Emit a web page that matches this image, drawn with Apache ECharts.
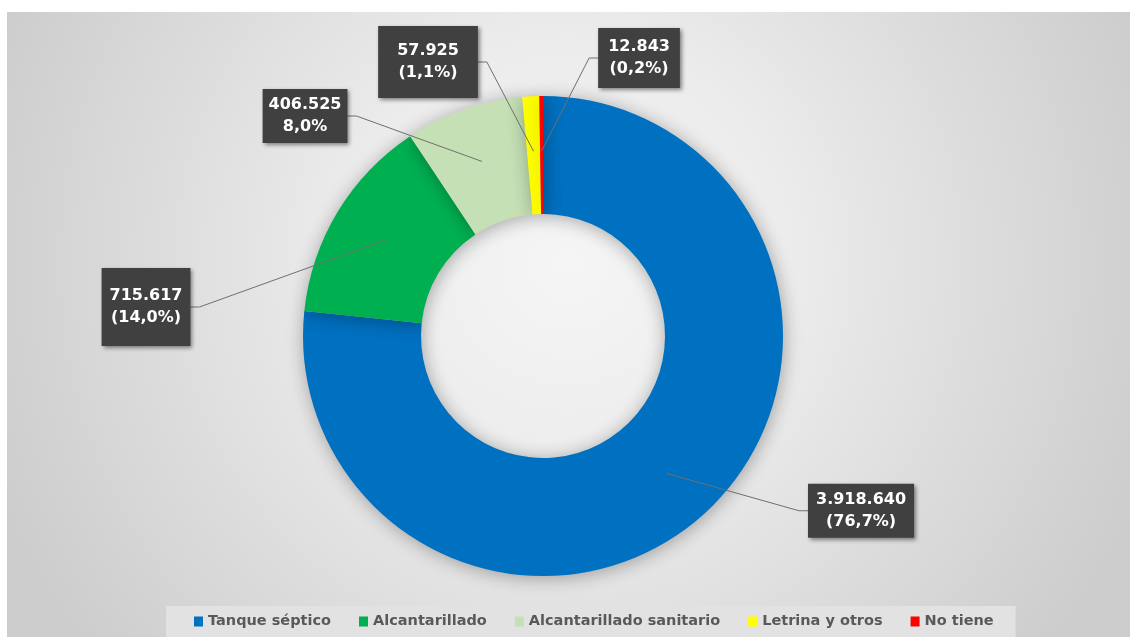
<!DOCTYPE html>
<html>
<head>
<meta charset="utf-8">
<script src="https://cdn.jsdelivr.net/npm/echarts@6/dist/echarts.min.js"></script>
<style>
  html, body { margin: 0; padding: 0; background: #ffffff; }
  #chart { position: absolute; left: 7px; top: 12px; width: 1123px; height: 625px; }
</style>
</head>
<body>
<div id="chart"></div>
<script>
// Households by type of sanitation
const categories = ['Tanque séptico', 'Alcantarillado', 'Alcantarillado sanitario', 'Letrina y otros', 'No tiene'];
const households = [3918640, 715617, 406525, 57925, 12843];
const shareLabels = ['(76,7%)', '(14,0%)', '8,0%', '(1,1%)', '(0,2%)'];

const palette = ['#0070C0', '#00B050', '#C5E0B4', '#FFFF00', '#FF0000'];

// Layout: donut centre and callout boxes (fractions of chart width / height)
const pieCenter = [0.4773, 0.5184];
const ringRadius = [122, 240];
const calloutAnchors = [[0.7605, 0.798], [0.1238, 0.472], [0.2654, 0.1664], [0.3749, 0.080], [0.5628, 0.0736]];
const calloutPadding = [[5, 8], [17, 8], [5, 6], [14, 19], [8, 10]];

const chart = echarts.init(document.getElementById('chart'));

function thousands(v) {
  return String(v).replace(/\B(?=(\d{3})+(?!\d))/g, '.');
}

const centerPct = [(pieCenter[0] * 100) + '%', (pieCenter[1] * 100) + '%'];

chart.setOption({
  animation: false,
  backgroundColor: {
    type: 'radial', x: 0.5, y: 0.4, r: 1.0,
    colorStops: [
      { offset: 0, color: '#f5f5f5' },
      { offset: 0.35, color: '#ececec' },
      { offset: 0.65, color: '#dddddd' },
      { offset: 1, color: '#cccccc' }
    ]
  },
  legend: {
    left: 159,
    top: 594,
    padding: [8, 22, 12, 28],
    backgroundColor: '#e2e2e2',
    icon: 'rect',
    itemWidth: 9,
    itemHeight: 10,
    itemGap: 28,
    textStyle: { color: '#595959', fontFamily: 'DejaVu Sans', fontWeight: 'bold', fontSize: 14.5 },
    data: categories.map(function (c, i) { return { name: c, itemStyle: { color: palette[i] } }; })
  },
  series: [
    {
      // coloured ring
      type: 'pie',
      z: 2,
      center: centerPct,
      radius: ringRadius,
      startAngle: 90,
      clockwise: true,
      silent: true,
      label: { show: false },
      labelLine: { show: false },
      itemStyle: {
        shadowBlur: 18,
        shadowColor: 'rgba(0,0,0,0.32)',
        shadowOffsetX: 1,
        shadowOffsetY: 2
      },
      data: households.map(function (v, i) {
        return { value: v, name: categories[i], itemStyle: { color: palette[i] } };
      })
    },
    {
      // callouts drawn on top of the ring
      type: 'pie',
      z: 3,
      center: centerPct,
      radius: ringRadius,
      startAngle: 90,
      clockwise: true,
      silent: true,
      avoidLabelOverlap: false,
      itemStyle: { color: 'rgba(0,0,0,0)' },
      label: {
        show: true,
        position: 'outside',
        formatter: function (p) { return thousands(p.value) + '\n' + shareLabels[p.dataIndex]; },
        color: '#ffffff',
        fontFamily: 'DejaVu Sans',
        fontWeight: 'bold',
        fontSize: 16,
        lineHeight: 22,
        align: 'center',
        backgroundColor: '#404040',
        shadowColor: 'rgba(0,0,0,0.45)',
        shadowBlur: 4,
        shadowOffsetX: 2,
        shadowOffsetY: 2
      },
      labelLine: {
        show: true,
        length: 10,
        length2: 10,
        lineStyle: { color: '#6f6f6f', width: 1 }
      },
      labelLayout: function (p) {
        const i = p.dataIndex;
        const w = chart.getWidth(), h = chart.getHeight();
        const bx = calloutAnchors[i][0] * w;
        const by = calloutAnchors[i][1] * h;
        const cx = pieCenter[0] * w, cy = pieCenter[1] * h;
        const p0 = p.labelLinePoints ? p.labelLinePoints[0] : [cx, cy];
        // leader lines start inside the ring
        const d = Math.sqrt((p0[0] - cx) * (p0[0] - cx) + (p0[1] - cy) * (p0[1] - cy)) || 1;
        const k = 185 / d;
        const sx = cx + (p0[0] - cx) * k;
        const sy = cy + (p0[1] - cy) * k;
        const half = p.labelRect.width / 2;
        const dir = bx > sx ? -1 : 1;
        const edgeX = bx + dir * half;
        const elbowX = edgeX + dir * 9;
        return {
          x: bx,
          y: by,
          align: 'center',
          verticalAlign: 'middle',
          labelLinePoints: [[sx, sy], [elbowX, by], [edgeX, by]]
        };
      },
      data: households.map(function (v, i) {
        return { value: v, name: categories[i], label: { padding: calloutPadding[i] } };
      })
    }
  ]
});
</script>
</body>
</html>
